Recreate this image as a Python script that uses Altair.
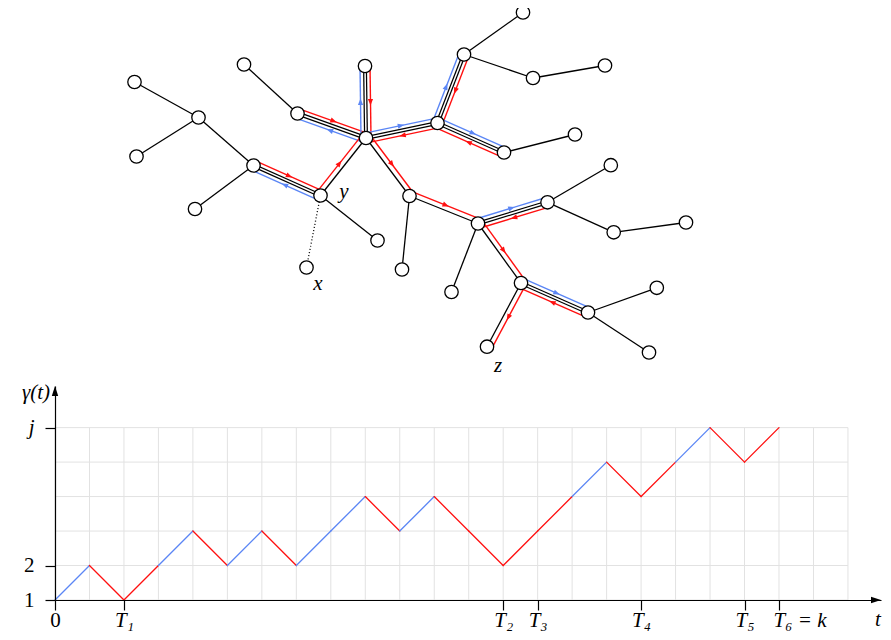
import math
import altair as alt
import pandas as pd

RED = "#ff1010"
BLUE = "#5b86f5"
GRID = "#e2e2e2"
FONT = "Liberation Serif"

# ---------------- tree (node positions) ----------------
node_id = ["A", "B", "C", "D", "E", "Y", "X", "F", "G", "H", "M", "N", "O", "P", "Q", "R",
           "S", "U", "V", "W", "W2", "Z1", "Z1L", "AA", "AB", "AC", "AD", "AE", "AF", "AG", "AH", "Z"]
node_x = [134.5, 136.5, 198.5, 195.0, 253.5, 320.5, 306.5, 377.5, 244.0, 297.5, 366.0, 365.0,
          437.5, 464.0, 523.0, 533.0, 605.0, 504.0, 575.0, 409.5, 402.0, 478.0, 451.5, 547.5,
          610.8, 613.7, 686.0, 521.0, 588.0, 656.8, 649.0, 487.0]
node_y = [82.0, 156.5, 117.5, 209.0, 165.5, 195.5, 267.5, 240.5, 64.5, 113.5, 138.0, 66.0,
          123.0, 54.5, 12.5, 78.0, 65.5, 152.5, 134.5, 196.0, 269.5, 223.5, 292.0, 202.3,
          165.2, 232.3, 222.5, 283.0, 312.5, 287.8, 352.5, 346.7]

plain_from = ["A", "B", "C", "E", "Y", "G", "P", "P", "R", "U", "W", "Z1", "AA", "AA", "AC", "AF", "AF"]
plain_to = ["C", "C", "E", "D", "F", "H", "Q", "R", "S", "V", "W2", "Z1L", "AB", "AC", "AD", "AG", "AH"]
dotted_from = ["Y"]
dotted_to = ["X"]

walk_from = ["E", "Y", "H", "M", "M", "N", "M", "O", "O", "P", "O", "U", "Y", "M", "W", "Z1", "AA", "Z1", "AE", "AF", "AE"]
walk_to = ["Y", "E", "M", "H", "N", "M", "O", "M", "P", "O", "U", "O", "M", "W", "Z1", "AA", "Z1", "AE", "AF", "AE", "Z"]
walk_color = ["red", "blue", "red", "blue", "blue", "red", "blue", "red", "blue", "red", "blue", "red",
              "red", "red", "red", "blue", "red", "red", "blue", "red", "red"]

label_text = ["y", "x", "z"]
label_x = [344.0, 318.0, 498.0]
label_y = [197.5, 290.0, 371.5]

# ---------------- walk gamma(t) ----------------
t_vals = list(range(22))
gamma = [1, 2, 1, 2, 3, 2, 3, 2, 3, 4, 3, 4, 3, 2, 3, 4, 5, 4, 5, 6, 5, 6]
step_color = ["blue", "red", "red", "blue", "red", "blue", "red", "blue", "blue", "red", "blue",
              "red", "red", "red", "red", "blue", "red", "red", "blue", "red", "red"]
xtick_vals = [0, 2, 13, 14, 17, 20, 21]
xtick_text = ["0", "T₁", "T₂", "T₃", "T₄", "T₅", "T₆ = k"]
ytick_vals = [1, 2, 6]
ytick_text = ["1", "2", "j"]
grid_t = list(range(0, 24))
grid_g = list(range(1, 7))

# plot-area geometry
W, H = 826, 214
STEP = 34.476
T_MAX = W / STEP
G_MAX = 1 + H / STEP

# ---------------- build tables ----------------
pos = {n: (x, y) for n, x, y in zip(node_id, node_x, node_y)}


def edge_df(fr, to):
    return pd.DataFrame({
        "x": [pos[a][0] for a in fr], "y": [pos[a][1] for a in fr],
        "x2": [pos[b][0] for b in to], "y2": [pos[b][1] for b in to],
    })


plain_df = edge_df(plain_from, plain_to)
dotted_df = edge_df(dotted_from, dotted_to)

directed = set(zip(walk_from, walk_to))
seen = []
for a, b in zip(walk_from, walk_to):
    if not any({a, b} == set(s) for s in seen):
        seen.append((a, b))
wk = edge_df([s[0] for s in seen], [s[1] for s in seen])
wk["double"] = [((b, a) in directed) for a, b in seen]
wk["w"] = [4.0 if d else 1.3 for d in wk["double"]]
wk_double = wk[wk["double"]]

OFF = 5.0
rows, arrows = [], []
for a, b, c in zip(walk_from, walk_to, walk_color):
    (xa, ya), (xb, yb) = pos[a], pos[b]
    dx, dy = xb - xa, yb - ya
    L = math.hypot(dx, dy)
    nx, ny = dy / L * OFF, -dx / L * OFF
    rows.append({"x": xa + nx, "y": ya + ny, "x2": xb + nx, "y2": yb + ny, "c": c})
    ang = math.degrees(math.atan2(dx, -dy)) % 360
    arrows.append({"x": (xa + xb) / 2 + nx, "y": (ya + yb) / 2 + ny, "ang": ang, "c": c})
col_df = pd.DataFrame(rows)
arr_df = pd.DataFrame(arrows)
nodes_df = pd.DataFrame({"x": node_x, "y": node_y})
lab_df = pd.DataFrame({"x": label_x, "y": label_y, "s": label_text})

seg_df = pd.DataFrame({
    "t0": t_vals[:-1], "t1": t_vals[1:], "g0": gamma[:-1], "g1": gamma[1:], "c": step_color,
})
vgrid_df = pd.DataFrame({"t": grid_t, "g0": [grid_g[0]] * len(grid_t), "g1": [grid_g[-1]] * len(grid_t)})
hgrid_df = pd.DataFrame({"g": grid_g, "t0": [grid_t[0]] * len(grid_g), "t1": [grid_t[-1]] * len(grid_g)})
axarrow_df = pd.DataFrame({"t": [T_MAX, 0], "g": [1, G_MAX], "ang": [90, 0]})

CS = alt.Scale(domain=["red", "blue"], range=[RED, BLUE])

# ---------------- tree layers ----------------
TX = alt.Scale(domain=[55, 55 + W], nice=False, zero=False)
TY = alt.Scale(domain=[600 - H, 600], nice=False, zero=False, reverse=True)


def TXe(f):
    return alt.X(f"{f}:Q", scale=TX, axis=None)


def TYe(f):
    return alt.Y(f"{f}:Q", scale=TY, axis=None)


l_plain = alt.Chart(plain_df).mark_rule(color="black", strokeWidth=1.3).encode(
    x=TXe("x"), y=TYe("y"), x2="x2", y2="y2")
l_dot = alt.Chart(dotted_df).mark_rule(color="black", strokeWidth=1.3, strokeDash=[1, 2.2]).encode(
    x=TXe("x"), y=TYe("y"), x2="x2", y2="y2")
l_wblack = alt.Chart(wk).mark_rule(color="black").encode(
    x=TXe("x"), y=TYe("y"), x2="x2", y2="y2", strokeWidth=alt.StrokeWidth("w:Q", scale=None))
l_wwhite = alt.Chart(wk_double).mark_rule(color="white", strokeWidth=1.5).encode(
    x=TXe("x"), y=TYe("y"), x2="x2", y2="y2")
l_col = alt.Chart(col_df).mark_rule(strokeWidth=1.4).encode(
    x=TXe("x"), y=TYe("y"), x2="x2", y2="y2", color=alt.Color("c:N", scale=CS, legend=None))
l_arr = alt.Chart(arr_df).mark_point(filled=True, shape="M0,-1.1L0.8,0.9L-0.8,0.9Z", size=42, opacity=1).encode(
    x=TXe("x"), y=TYe("y"), angle=alt.Angle("ang:Q", scale=None),
    color=alt.Color("c:N", scale=CS, legend=None))
l_nodes = alt.Chart(nodes_df).mark_circle(size=180, fill="white", stroke="black", strokeWidth=1.3, opacity=1).encode(
    x=TXe("x"), y=TYe("y"))
l_lab = alt.Chart(lab_df).mark_text(font=FONT, fontSize=21, fontStyle="italic", align="center",
                                     baseline="alphabetic", color="black").encode(
    x=TXe("x"), y=TYe("y"), text="s:N")

tree = alt.layer(l_plain, l_dot, l_wblack, l_wwhite, l_col, l_arr, l_nodes, l_lab)

# ---------------- bottom plot ----------------
BX = alt.Scale(domain=[0, T_MAX], nice=False, zero=False)
BY = alt.Scale(domain=[1, G_MAX], nice=False, zero=False)


def chain(vals, texts):
    e = "''"
    for v, s in reversed(list(zip(vals, texts))):
        e = f"datum.value == {v} ? '{s}' : ({e})"
    return e


x_axis = alt.Axis(
    orient="bottom", values=xtick_vals, labelExpr=chain(xtick_vals, xtick_text), title=None,
    grid=False, domainColor="black", domainWidth=1.2, tickColor="black", tickWidth=1.2, tickSize=10,
    labelFont=FONT, labelFontSize=21, labelColor="black", labelPadding=16, labelBaseline="alphabetic",
    labelFlush=False, labelOverlap=False, zindex=1,
    labelFontStyle={"condition": {"test": "datum.value == 0", "value": "normal"}, "value": "italic"},
    labelAlign={"condition": {"test": "datum.value == 21", "value": "left"}, "value": "center"},
    labelOffset={"condition": {"test": "datum.value == 21", "value": -6}, "value": 0},
)
y_axis = alt.Axis(
    orient="left", values=ytick_vals, labelExpr=chain(ytick_vals, ytick_text), title=None,
    grid=False, domainColor="black", domainWidth=1.2, tickColor="black", tickWidth=1.2, tickSize=10,
    labelFont=FONT, labelFontSize=21, labelColor="black", labelPadding=11, labelFlush=False,
    labelOverlap=False, zindex=1,
    labelFontStyle={"condition": {"test": "datum.value == 6", "value": "italic"}, "value": "normal"},
)

b_vgrid = alt.Chart(vgrid_df).mark_rule(color=GRID, strokeWidth=1).encode(
    x=alt.X("t:Q", scale=BX, axis=x_axis), y=alt.Y("g0:Q", scale=BY, axis=y_axis), y2="g1")
b_hgrid = alt.Chart(hgrid_df).mark_rule(color=GRID, strokeWidth=1).encode(
    x=alt.X("t0:Q", scale=BX, axis=x_axis), x2="t1", y=alt.Y("g:Q", scale=BY, axis=y_axis))
b_path = alt.Chart(seg_df).mark_rule(strokeWidth=1.3, strokeCap="round").encode(
    x=alt.X("t0:Q", scale=BX, axis=x_axis), x2="t1",
    y=alt.Y("g0:Q", scale=BY, axis=y_axis), y2="g1",
    color=alt.Color("c:N", scale=CS, legend=None))
b_arrows = alt.Chart(axarrow_df).mark_point(filled=True, shape="M0,0L0.8,2.5L-0.8,2.5Z", size=64,
                                            color="black", opacity=1).encode(
    x=alt.X("t:Q", scale=BX, axis=x_axis), y=alt.Y("g:Q", scale=BY, axis=y_axis),
    angle=alt.Angle("ang:Q", scale=None))
b_gam = alt.Chart(pd.DataFrame({"t": [0], "g": [G_MAX], "s": ["γ(t)"]})).mark_text(
    font=FONT, fontSize=21, fontStyle="italic", align="center", baseline="middle", dx=-19, dy=7,
    color="black").encode(x=alt.X("t:Q", scale=BX, axis=x_axis), y=alt.Y("g:Q", scale=BY, axis=y_axis), text="s:N")
b_t = alt.Chart(pd.DataFrame({"t": [T_MAX], "g": [1], "s": ["t"]})).mark_text(
    font=FONT, fontSize=21, fontStyle="italic", align="center", baseline="alphabetic", dx=-3, dy=26,
    color="black").encode(x=alt.X("t:Q", scale=BX, axis=x_axis), y=alt.Y("g:Q", scale=BY, axis=y_axis), text="s:N")

bottom = alt.layer(b_vgrid, b_hgrid, b_path, b_arrows, b_gam, b_t)

chart = alt.layer(bottom, tree).resolve_scale(x="independent", y="independent").properties(
    width=W, height=H,
    autosize=alt.AutoSizeParams(type="none"),
    padding={"left": 47, "top": 600 - H - 8, "right": 2, "bottom": 32},
).configure_view(stroke=None)

chart.save("out.html", embed_options={"renderer": "svg", "actions": False})
